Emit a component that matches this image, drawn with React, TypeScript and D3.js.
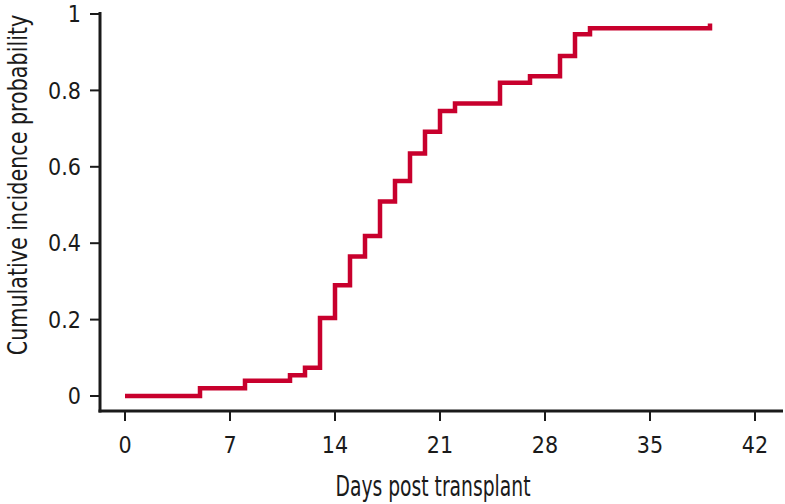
import { useEffect, useRef } from 'react';
import * as d3 from 'd3';

// Days at which the cumulative incidence steps up
const days = [0, 5, 8, 11, 12, 13, 14, 15, 16, 17, 18, 19, 20, 21, 22, 25, 27, 29, 30, 31, 39];
// Cumulative incidence after each step
const incidence = [0, 0.02, 0.04, 0.054, 0.074, 0.204, 0.29, 0.365, 0.419, 0.509, 0.563, 0.635, 0.692, 0.746, 0.766, 0.82, 0.837, 0.89, 0.947, 0.963, 0.975];

const xTicks = [0, 7, 14, 21, 28, 35, 42];
const yTicks = [0, 0.2, 0.4, 0.6, 0.8, 1];

const xTitle = 'Days post transplant';
const yTitle = 'Cumulative incidence probability';

const narrow = "'Liberation Sans Narrow', 'DejaVu Sans Condensed', 'Liberation Sans', sans-serif";

const App = () => {
  const ref = useRef<SVGSVGElement | null>(null);

  useEffect(() => {
    if (!ref.current) return;
    const svg = d3.select(ref.current);
    svg.selectAll('*').remove();

    const x = d3.scaleLinear().domain([0, 42]).range([125, 755]);
    const y = d3.scaleLinear().domain([0, 1]).range([396, 14]);

    const axisColor = '#1a1a1a';

    // axis lines
    svg.append('line')
      .attr('x1', 100).attr('x2', 100)
      .attr('y1', 12).attr('y2', 412.5)
      .attr('stroke', axisColor).attr('stroke-width', 3);
    svg.append('line')
      .attr('x1', 98.5).attr('x2', 783)
      .attr('y1', 411).attr('y2', 411)
      .attr('stroke', axisColor).attr('stroke-width', 3);

    // y ticks
    const yg = svg.append('g');
    yg.selectAll('line')
      .data(yTicks)
      .enter()
      .append('line')
      .attr('x1', 90).attr('x2', 100)
      .attr('y1', d => y(d)).attr('y2', d => y(d))
      .attr('stroke', axisColor).attr('stroke-width', 2);
    yg.selectAll('text')
      .data(yTicks)
      .enter()
      .append('text')
      .attr('x', 81)
      .attr('y', d => y(d))
      .attr('dy', '0.36em')
      .attr('text-anchor', 'end')
      .style('font-family', narrow)
      .style('font-size', '23px')
      .style('fill', axisColor)
      .text(d => (d === 0 || d === 1 ? String(d) : d.toFixed(1)));

    // x ticks
    const xg = svg.append('g');
    xg.selectAll('line')
      .data(xTicks)
      .enter()
      .append('line')
      .attr('x1', d => x(d)).attr('x2', d => x(d))
      .attr('y1', 411).attr('y2', 421)
      .attr('stroke', axisColor).attr('stroke-width', 2);
    xg.selectAll('text')
      .data(xTicks)
      .enter()
      .append('text')
      .attr('x', d => x(d))
      .attr('y', 453)
      .attr('text-anchor', 'middle')
      .style('font-family', narrow)
      .style('font-size', '23px')
      .style('fill', axisColor)
      .text(d => d);

    // axis titles
    svg.append('text')
      .attr('x', 433)
      .attr('y', 496)
      .attr('text-anchor', 'middle')
      .attr('textLength', 195)
      .attr('lengthAdjust', 'spacingAndGlyphs')
      .style('font-family', narrow)
      .style('font-size', '28px')
      .style('fill', axisColor)
      .text(xTitle);

    // no textLength here: keep the natural width so it fits, stretch the glyph height instead
    svg.append('text')
      .attr('transform', 'translate(27, 185) rotate(-90) scale(1, 1.15)')
      .attr('text-anchor', 'middle')
      .style('font-family', narrow)
      .style('font-size', '23px')
      .style('fill', axisColor)
      .text(yTitle);

    // step curve
    const points: [number, number][] = days.map((d, i) => [d, incidence[i]]);
    const line = d3.line<[number, number]>()
      .x(d => x(d[0]))
      .y(d => y(d[1]))
      .curve(d3.curveStepAfter);

    svg.append('path')
      .attr('d', line(points))
      .attr('fill', 'none')
      .attr('stroke', '#c8002d')
      .attr('stroke-width', 4.5)
      .attr('stroke-linejoin', 'miter')
      .attr('stroke-linecap', 'butt');
  }, []);

  return (
    <svg
      ref={ref}
      width={785}
      height={504}
      style={{ position: 'absolute', left: 0, top: 0, background: '#fff' }}
    />
  );
};

export default App;
